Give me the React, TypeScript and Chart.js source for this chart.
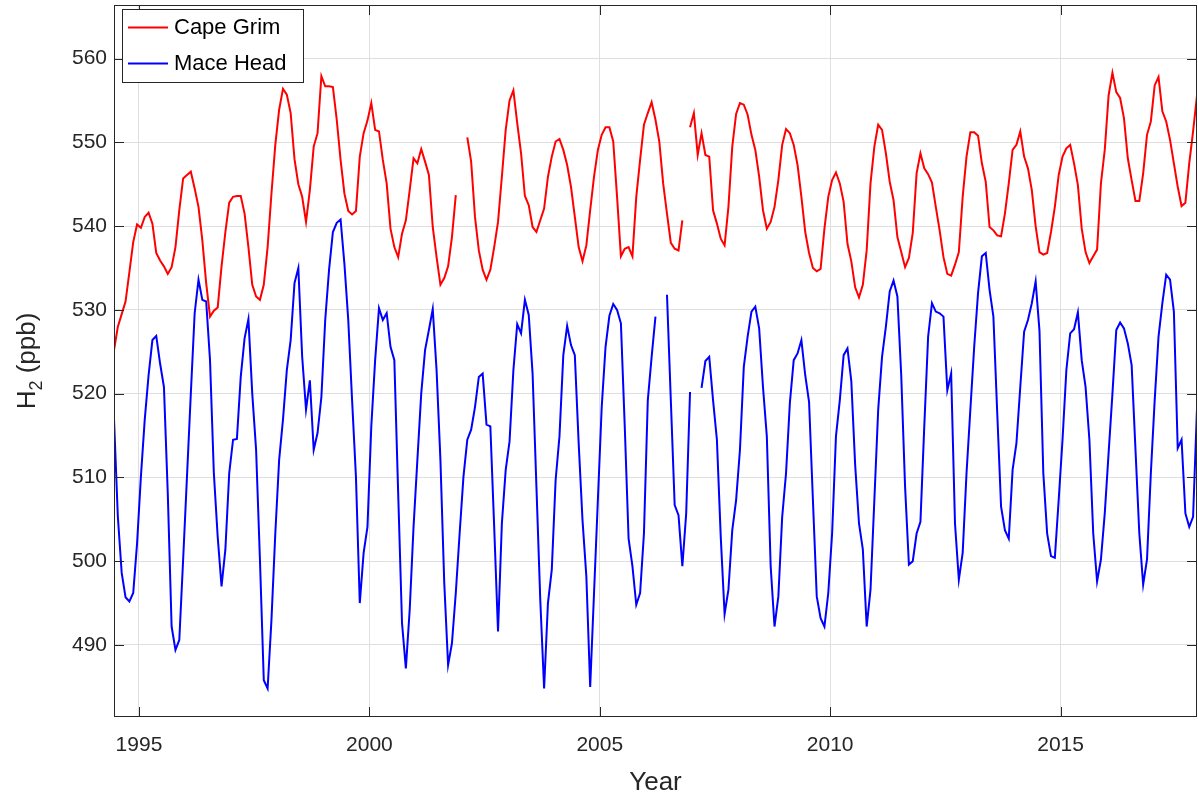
import React, { useEffect, useRef } from 'react';
import { Chart, registerables } from 'chart.js';

Chart.register(...registerables);

// Monthly mean H2 mixing ratios, June 1994 – December 2017 (null = missing month)
const START_YEAR = 1994;
const START_MONTH = 6;

const capeGrim: (number | null)[] = [
  525.2, 528.0, 529.5, 531.0, 534.5, 538.1, 540.2, 539.8, 541.1, 541.6, 540.3, 536.8,
  535.9, 535.2, 534.3, 535.1, 537.5, 541.9, 545.7, 546.1, 546.5, 544.5, 542.3, 538.3,
  533.2, 529.2, 529.9, 530.3, 535.2, 539.3, 542.8, 543.5, 543.6, 543.6, 541.5, 537.5,
  533.0, 531.6, 531.2, 533.0, 537.5, 543.9, 549.7, 553.9, 556.4, 555.7, 553.5, 548.0,
  545.0, 543.5, 540.5, 544.3, 549.5, 551.1, 557.9, 556.7, 556.7, 556.6, 552.7, 547.9,
  543.9, 541.8, 541.4, 541.8, 548.3, 551.1, 552.6, 554.7, 551.5, 551.3, 547.9, 545.1,
  539.7, 537.5, 536.3, 539.1, 540.7, 544.3, 548.1, 547.5, 549.2, 547.7, 546.1, 539.9,
  536.3, 533.0, 533.8, 535.2, 538.7, 543.7, null, null, 550.6, 547.7, 541.1, 537.1,
  534.8, 533.6, 534.8, 537.5, 540.5, 545.9, 551.5, 555.0, 556.2, 552.3, 548.7, 543.6,
  542.5, 539.9, 539.3, 540.7, 542.1, 545.9, 548.3, 550.1, 550.4, 549.1, 547.3, 544.7,
  541.1, 537.5, 535.8, 537.7, 541.9, 545.9, 549.1, 550.9, 551.8, 551.8, 550.1, 543.5,
  536.4, 537.3, 537.5, 536.4, 543.5, 547.9, 552.1, 553.5, 554.8, 552.7, 550.1, 545.1,
  541.5, 538.0, 537.3, 537.1, 540.7, null, 551.8, 553.5, 548.5, 551.1, 548.5, 548.3,
  541.9, 540.3, 538.5, 537.7, 542.3, 549.5, 553.4, 554.7, 554.5, 553.3, 550.9, 549.1,
  545.9, 541.9, 539.7, 540.5, 542.3, 545.5, 549.7, 551.6, 551.1, 549.7, 547.3, 543.5,
  539.3, 536.8, 535.0, 534.6, 534.9, 539.7, 543.5, 545.5, 546.4, 545.1, 542.9, 537.9,
  535.8, 532.7, 531.5, 533.0, 537.1, 545.1, 549.5, 552.1, 551.5, 548.7, 545.3, 543.1,
  538.7, 536.9, 535.1, 536.2, 539.2, 546.3, 548.7, 546.9, 546.2, 545.2, 542.3, 539.5,
  536.3, 534.3, 534.1, 535.4, 536.9, 543.5, 548.3, 551.2, 551.2, 550.8, 547.5, 545.3,
  539.9, 539.5, 538.9, 538.8, 541.5, 545.1, 549.1, 549.7, 551.3, 548.3, 546.9, 544.3,
  540.0, 536.9, 536.6, 536.8, 539.3, 542.3, 546.1, 548.3, 549.3, 549.7, 547.5, 544.9,
  539.7, 536.9, 535.6, 536.4, 537.2, 545.1, 549.1, 555.6, 558.3, 556.0, 555.3, 552.9,
  548.1, 545.5, 543.0, 543.0, 546.3, 550.9, 552.5, 556.8, 557.8, 553.7, 552.5, 550.3,
  547.5, 544.7, 542.4, 542.8, 547.5, 551.3, 555.5,
];

const maceHead: (number | null)[] = [
  516.9, 505.3, 498.6, 495.7, 495.2, 496.2, 502.1, 510.1, 516.9, 522.2, 526.4, 526.9,
  523.6, 520.8, 508.1, 492.2, 489.4, 490.6, 500.2, 510.1, 520.0, 529.6, 533.6, 531.2,
  531.0, 524.0, 510.5, 502.9, 497.0, 501.4, 510.5, 514.5, 514.6, 522.0, 526.6, 528.9,
  520.0, 513.3, 500.2, 485.8, 484.8, 493.0, 503.3, 512.1, 516.9, 522.8, 526.4, 533.2,
  535.0, 524.4, 518.1, 521.6, 513.3, 515.3, 519.6, 528.8, 534.8, 539.3, 540.4, 540.8,
  535.5, 528.8, 519.2, 510.1, 495.0, 501.0, 504.1, 516.1, 524.0, 530.2, 528.8, 529.6,
  525.6, 524.0, 508.1, 492.6, 487.2, 494.2, 504.1, 512.1, 520.0, 525.2, 527.6, 530.1,
  522.8, 512.1, 497.4, 487.6, 490.2, 496.2, 503.3, 510.1, 514.5, 515.7, 518.4, 522.0,
  522.4, 516.3, 516.1, 504.1, 491.6, 504.5, 510.9, 514.3, 522.8, 528.3, 527.2, 531.2,
  529.4, 522.4, 508.9, 495.4, 484.8, 495.0, 499.0, 509.7, 514.9, 524.6, 528.1, 525.8,
  524.6, 514.1, 504.9, 498.2, 485.0, 496.2, 507.3, 518.4, 525.6, 529.3, 530.7, 530.0,
  528.4, 516.1, 502.7, 499.4, 494.8, 496.2, 503.3, 519.2, 524.4, 529.2, null, null,
  531.8, 519.2, 506.7, 505.5, 499.4, 505.7, 520.2, null, null, 520.7, 523.9, 524.4,
  519.2, 514.5, 502.9, 493.7, 496.6, 503.7, 507.3, 513.3, 523.2, 526.8, 529.8, 530.4,
  527.8, 520.8, 514.9, 499.4, 492.2, 495.8, 505.3, 510.5, 518.9, 524.0, 524.8, 526.4,
  522.2, 519.0, 507.3, 495.8, 493.2, 492.2, 496.2, 503.3, 514.9, 519.2, 524.6, 525.4,
  521.5, 511.5, 504.5, 501.4, 492.2, 496.6, 507.3, 518.1, 524.4, 528.0, 532.2, 533.5,
  531.6, 522.2, 508.9, 499.6, 500.0, 503.3, 504.7, 516.1, 526.8, 530.8, 529.8, 529.6,
  529.2, 520.4, 522.4, 504.5, 497.8, 501.0, 510.5, 518.1, 525.6, 532.0, 536.4, 536.8,
  532.4, 529.2, 517.7, 506.5, 503.7, 502.7, 510.9, 514.1, 520.8, 527.4, 528.8, 530.8,
  533.4, 527.5, 510.5, 503.3, 500.6, 500.4, 507.3, 514.5, 522.8, 527.2, 527.7, 529.7,
  524.0, 520.8, 514.5, 503.3, 497.6, 500.2, 505.7, 512.9, 520.0, 527.6, 528.5, 527.8,
  526.0, 523.4, 513.3, 503.3, 497.2, 500.2, 510.5, 519.2, 526.8, 530.8, 534.2, 533.6,
  529.8, 513.5, 514.5, 505.7, 504.1, 505.3, 518.0,
];

const seriesNames = ['Cape Grim', 'Mace Head'];
const seriesColors = ['#ff0000', '#0000ff'];
const yearTicks = [1995, 2000, 2005, 2010, 2015];
const ppbTicks = [490, 500, 510, 520, 530, 540, 550, 560];

const X_MIN = 1994.458;
const X_MAX = 2017.96;
const Y_MIN = 481.4;
const Y_MAX = 566.4;

const FONT = 'Arial, "Liberation Sans", Helvetica, sans-serif';
const INK = '#262626';
const GRID = '#dfdfdf';

const monthTime = (i: number) => START_YEAR + (START_MONTH - 1 + i + 0.5) / 12;
const toPoints = (vals: (number | null)[]) => vals.map((y, i) => ({ x: monthTime(i), y }));

// Box outline, inward ticks, axis titles and the in-plot legend
const framePlugin = {
  id: 'frame',
  afterDraw(chart: any) {
    const { ctx, chartArea: a, scales } = chart;
    const tl = 10;
    ctx.save();
    ctx.strokeStyle = INK;
    ctx.lineWidth = 1;
    ctx.beginPath();
    yearTicks.forEach((v) => {
      const x = Math.round(scales.x.getPixelForValue(v)) + 0.5;
      ctx.moveTo(x, a.bottom);
      ctx.lineTo(x, a.bottom - tl);
      ctx.moveTo(x, a.top);
      ctx.lineTo(x, a.top + tl);
    });
    ppbTicks.forEach((v) => {
      const y = Math.round(scales.y.getPixelForValue(v)) + 0.5;
      ctx.moveTo(a.left, y);
      ctx.lineTo(a.left + tl, y);
      ctx.moveTo(a.right, y);
      ctx.lineTo(a.right - tl, y);
    });
    ctx.stroke();
    ctx.strokeRect(Math.round(a.left) + 0.5, Math.round(a.top) + 0.5,
      Math.round(a.right - a.left) - 1, Math.round(a.bottom - a.top) - 1);

    // x-axis title
    ctx.fillStyle = INK;
    ctx.font = `26px ${FONT}`;
    ctx.textAlign = 'center';
    ctx.textBaseline = 'middle';
    ctx.fillText('Year', (a.left + a.right) / 2, 783);

    // y-axis title with subscript
    ctx.save();
    ctx.translate(28, (a.top + a.bottom) / 2);
    ctx.rotate(-Math.PI / 2);
    ctx.textAlign = 'left';
    ctx.textBaseline = 'middle';
    ctx.font = `26px ${FONT}`;
    const wH = ctx.measureText('H').width;
    const wRest = ctx.measureText(' (ppb)').width;
    ctx.font = `18px ${FONT}`;
    const wSub = ctx.measureText('2').width;
    let x0 = -(wH + wSub + wRest) / 2;
    ctx.font = `26px ${FONT}`;
    ctx.fillText('H', x0, 0);
    x0 += wH;
    ctx.font = `18px ${FONT}`;
    ctx.fillText('2', x0, 9);
    x0 += wSub;
    ctx.font = `26px ${FONT}`;
    ctx.fillText(' (ppb)', x0, 0);
    ctx.restore();

    // legend
    const lx = 122, ly = 9, lw = 181, lh = 73;
    ctx.fillStyle = '#ffffff';
    ctx.fillRect(lx, ly, lw, lh);
    ctx.strokeStyle = INK;
    ctx.lineWidth = 1;
    ctx.strokeRect(lx + 0.5, ly + 0.5, lw, lh);
    const rows = [ly + 18.5, ly + lh - 18.5];
    seriesNames.forEach((name, k) => {
      const ry = rows[k];
      ctx.strokeStyle = seriesColors[k];
      ctx.lineWidth = 2;
      ctx.beginPath();
      ctx.moveTo(lx + 6, ry);
      ctx.lineTo(lx + 46, ry);
      ctx.stroke();
      ctx.fillStyle = '#000000';
      ctx.font = `22px ${FONT}`;
      ctx.textAlign = 'left';
      ctx.textBaseline = 'middle';
      ctx.fillText(name, lx + 52, ry);
    });
    ctx.restore();
  },
};

export default function App() {
  const canvasRef = useRef<HTMLCanvasElement | null>(null);

  useEffect(() => {
    const canvas = canvasRef.current;
    if (!canvas) return;
    const chart = new Chart(canvas, {
      type: 'line',
      data: {
        datasets: [
          {
            label: seriesNames[0],
            data: toPoints(capeGrim),
            borderColor: seriesColors[0],
            backgroundColor: seriesColors[0],
            borderWidth: 2,
            pointRadius: 0,
            tension: 0,
            spanGaps: false,
          },
          {
            label: seriesNames[1],
            data: toPoints(maceHead),
            borderColor: seriesColors[1],
            backgroundColor: seriesColors[1],
            borderWidth: 2,
            pointRadius: 0,
            tension: 0,
            spanGaps: false,
          },
        ],
      },
      options: {
        responsive: false,
        animation: false,
        devicePixelRatio: 1,
        layout: { padding: { top: 5, right: 1, left: 0, bottom: 0 } },
        plugins: { legend: { display: false }, tooltip: { enabled: false } },
        scales: {
          x: {
            type: 'linear',
            min: X_MIN,
            max: X_MAX,
            afterBuildTicks: (s: any) => { s.ticks = yearTicks.map((v) => ({ value: v })); },
            afterFit: (s: any) => {
              s.height = 79;
              s.paddingLeft = 0;
              s.paddingRight = 0;
            },
            grid: { color: GRID, lineWidth: 1, drawTicks: false },
            border: { display: false },
            ticks: {
              color: INK,
              font: { family: FONT, size: 21 },
              padding: 16,
              maxRotation: 0,
              autoSkip: false,
              callback: (v: any) => String(v),
            },
          },
          y: {
            type: 'linear',
            min: Y_MIN,
            max: Y_MAX,
            afterBuildTicks: (s: any) => { s.ticks = ppbTicks.map((v) => ({ value: v })); },
            afterFit: (s: any) => {
              s.width = 114;
              s.paddingTop = 0;
              s.paddingBottom = 0;
            },
            grid: { color: GRID, lineWidth: 1, drawTicks: false },
            border: { display: false },
            ticks: {
              color: INK,
              font: { family: FONT, size: 21 },
              padding: 7,
              autoSkip: false,
              callback: (v: any) => String(v),
            },
          },
        },
      },
      plugins: [framePlugin],
    });
    return () => chart.destroy();
  }, []);

  return (
    <div style={{ position: 'fixed', left: 0, top: 0, width: 1198, height: 796, background: '#ffffff' }}>
      <canvas ref={canvasRef} width={1198} height={796} style={{ display: 'block' }} />
    </div>
  );
}
